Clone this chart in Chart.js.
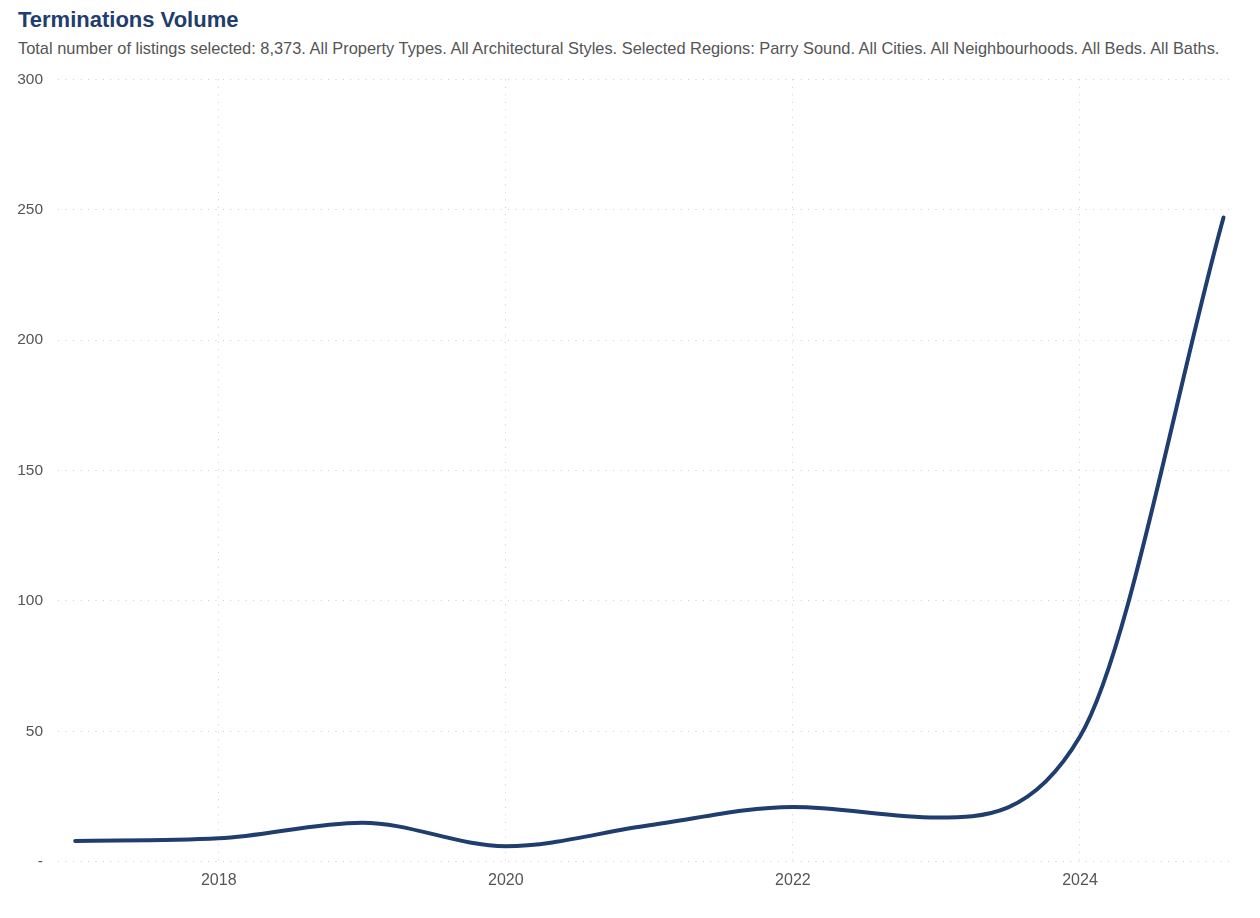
<!DOCTYPE html>
<html>
<head>
<meta charset="utf-8">
<script src="https://cdn.jsdelivr.net/npm/chart.js@4/dist/chart.umd.min.js"></script>
<style>
    body { margin: 0; background: #fff; font-family: "Liberation Sans", Arial, sans-serif; }
    #title { position: absolute; left: 18px; top: 7px; font-size: 22px; font-weight: bold; color: #1f3d6e; }
    #subtitle { position: absolute; left: 18px; top: 39px; font-size: 16.4px; color: #555; white-space: nowrap; }
    #wrap { position: absolute; left: 0; top: 55px; width: 1260px; height: 844px; }
</style>
</head>
<body>
<div id="title">Terminations Volume</div>
<div id="subtitle">Total number of listings selected: 8,373. All Property Types. All Architectural Styles. Selected Regions: Parry Sound. All Cities. All Neighbourhoods. All Beds. All Baths.</div>
<div id="wrap"><canvas id="chart"></canvas></div>
<script>
// yearly terminations
const years = [2017, 2018, 2019, 2020, 2021, 2022, 2023, 2024, 2025];
const volumes = [8, 9, 15, 6, 14, 21, 17, 48, 247];
const yTicks = [0, 50, 100, 150, 200, 250, 300];

const gridStyle = { color: '#cfcfcf', lineWidth: 1, drawTicks: false };
const dotted = { display: false, dash: [1, 6.5] };

const ctx = document.getElementById('chart').getContext('2d');
new Chart(ctx, {
    type: 'line',
    data: {
        datasets: [{
            data: years.map((y, i) => ({ x: y, y: volumes[i] })),
            borderColor: '#1f3d6e',
            borderWidth: 4,
            borderCapStyle: 'round',
            pointRadius: 0,
            cubicInterpolationMode: 'monotone',
            fill: false
        }]
    },
    options: {
        responsive: true,
        maintainAspectRatio: false,
        animation: false,
        layout: { padding: { right: 25, top: 0 } },
        plugins: { legend: { display: false }, tooltip: { enabled: false } },
        scales: {
            x: {
                type: 'linear',
                min: 2016.88,
                max: 2025.08,
                border: dotted,
                grid: gridStyle,
                ticks: {
                    color: '#555',
                    font: { family: 'Liberation Sans', size: 16 },
                    padding: 9,
                    callback: v => String(v)
                },
                afterBuildTicks: axis => { axis.ticks = [2018, 2020, 2022, 2024].map(v => ({ value: v })); }
            },
            y: {
                min: 0,
                max: 300,
                border: dotted,
                grid: gridStyle,
                afterFit: axis => { axis.width = 58; },
                afterBuildTicks: axis => { axis.ticks = yTicks.map(v => ({ value: v })); },
                ticks: {
                    color: '#555',
                    font: { family: 'Liberation Sans', size: 15.5 },
                    padding: 15,
                    callback: v => (v === 0 ? '-' : v)
                }
            }
        }
    }
});
</script>
</body>
</html>
